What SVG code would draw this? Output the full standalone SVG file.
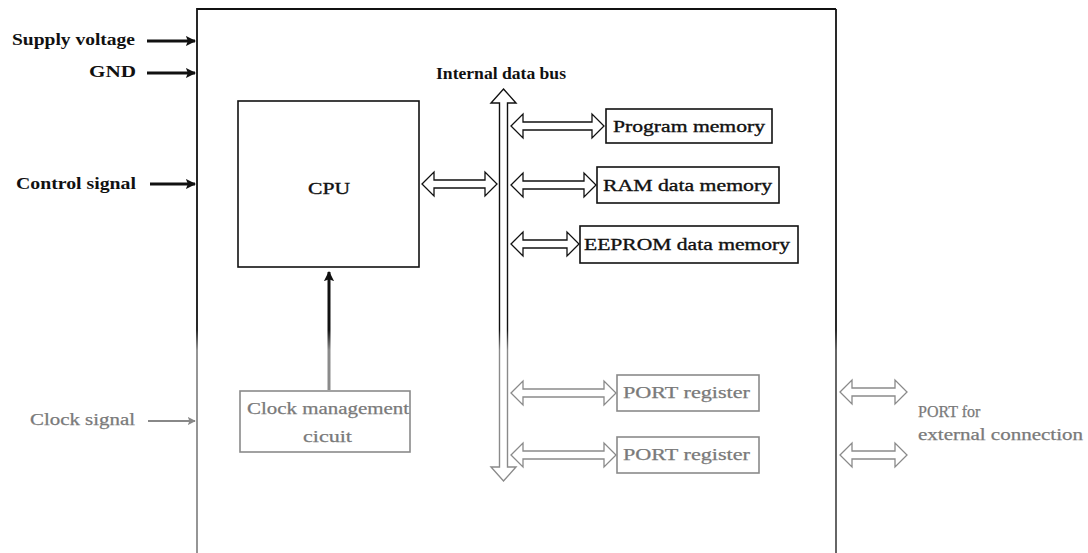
<svg xmlns="http://www.w3.org/2000/svg" width="1088" height="553" viewBox="0 0 1088 553">
<style>
text{font-family:"Liberation Serif","Times New Roman",serif;font-size:16px}
.b{font-weight:bold;fill:#111}
.k{fill:#111;stroke:#111;stroke-width:0.35}
.g{fill:#7a7a7a;stroke:#7a7a7a;stroke-width:0.25}
.box{fill:#fff;stroke:#111;stroke-width:1.6}
.gbox{fill:#fff;stroke:#8a8a8a;stroke-width:1.6}
.da{fill:#fff;stroke:#111;stroke-width:1.3;stroke-linejoin:miter}
.gda{fill:#fff;stroke:#8a8a8a;stroke-width:1.3}
.in{stroke:#111;stroke-width:3;fill:none}
.gin{stroke:#888;stroke-width:2;fill:none}
</style>
<defs>
<marker id="ah" viewBox="0 0 10 10" refX="9" refY="5" markerWidth="3.4" markerHeight="3.4" orient="auto" markerUnits="strokeWidth">
<path d="M0,0 L10,5 L0,10 L2,5 z" fill="#111"/>
</marker>
<marker id="gah" viewBox="0 0 10 10" refX="9" refY="5" markerWidth="4" markerHeight="4" orient="auto" markerUnits="strokeWidth">
<path d="M0,0 L10,5 L0,10 L2,5 z" fill="#888"/>
</marker>
<linearGradient id="fade" gradientUnits="userSpaceOnUse" x1="0" y1="330" x2="0" y2="350">
<stop offset="0" stop-color="#111"/>
<stop offset="1" stop-color="#8a8a8a"/>
</linearGradient>
<linearGradient id="fadeR" gradientUnits="userSpaceOnUse" x1="0" y1="330" x2="0" y2="350">
<stop offset="0" stop-color="#111"/>
<stop offset="1" stop-color="#555"/>
</linearGradient>
</defs>
<rect width="1088" height="553" fill="#fff"/>

<g id="chip">
<path d="M197,553 V9 H836" fill="none" stroke="url(#fade)" stroke-width="1.8"/>
<path d="M836,9 V553" fill="none" stroke="url(#fadeR)" stroke-width="1.8"/>
</g>

<g id="connectors">
<line class="in" x1="147" y1="41" x2="195" y2="41" marker-end="url(#ah)"/>
<line class="in" x1="147" y1="73" x2="195" y2="73" marker-end="url(#ah)"/>
<line class="in" x1="150" y1="184" x2="195" y2="184" marker-end="url(#ah)"/>
<line class="gin" x1="148" y1="421" x2="195" y2="421" marker-end="url(#gah)"/>
<line x1="329" y1="390" x2="329" y2="272" stroke="url(#fade)" stroke-width="3" marker-end="url(#ah)"/>
<polygon id="bus" points="503.5,89 516,103 507.5,103 507.5,467 516,467 503.5,481 491,467 499.5,467 499.5,103 491,103" fill="#fff" stroke="url(#fade)" stroke-width="1.4"/>
<polygon class="da" points="422,184 434,172 434,180 485,180 485,172 497,184 485,196 485,188 434,188 434,196"/>
<polygon class="da" points="511,126 523,114 523,122 592,122 592,114 604,126 592,138 592,130 523,130 523,138"/>
<polygon class="da" points="511,185 523,173 523,181 584,181 584,173 596,185 584,197 584,189 523,189 523,197"/>
<polygon class="da" points="511,244 523,232 523,240 567,240 567,232 579,244 567,256 567,248 523,248 523,256"/>
<polygon class="gda" points="511,393 523,381 523,389 604,389 604,381 616,393 604,405 604,397 523,397 523,405"/>
<polygon class="gda" points="511,455 523,443 523,451 604,451 604,443 616,455 604,467 604,459 523,459 523,467"/>
<polygon class="gda" points="840,392 852,380 852,388 895,388 895,380 907,392 895,404 895,396 852,396 852,404"/>
<polygon class="gda" points="840,455 852,443 852,451 895,451 895,443 907,455 895,467 895,459 852,459 852,467"/>
</g>

<g id="labels">
<text class="b" x="12" y="45" textLength="123" lengthAdjust="spacingAndGlyphs">Supply voltage</text>
<text class="b" x="89" y="77" textLength="47" lengthAdjust="spacingAndGlyphs">GND</text>
<text class="b" x="16" y="189" textLength="120" lengthAdjust="spacingAndGlyphs">Control signal</text>
<text class="g" x="30" y="425" textLength="105" lengthAdjust="spacingAndGlyphs">Clock signal</text>
<text class="b" x="436" y="79" textLength="130" lengthAdjust="spacingAndGlyphs">Internal data bus</text>
<text class="g" x="918" y="417">PORT for</text>
<text class="g" x="918" y="440" textLength="165" lengthAdjust="spacingAndGlyphs">external connection</text>
</g>

<g id="cpu">
<rect class="box" x="238" y="101" width="181" height="166"/>
<text class="k" x="308" y="194" textLength="42" lengthAdjust="spacingAndGlyphs">CPU</text>
</g>

<g id="clock">
<rect class="gbox" x="240" y="391" width="170" height="61"/>
<text class="g" x="247" y="414" textLength="162" lengthAdjust="spacingAndGlyphs">Clock management</text>
<text class="g" x="303" y="442" textLength="49" lengthAdjust="spacingAndGlyphs">cicuit</text>
</g>

<g id="program">
<rect class="box" x="606" y="109" width="166" height="34"/>
<text class="k" x="613" y="132" textLength="152" lengthAdjust="spacingAndGlyphs">Program memory</text>
</g>

<g id="ram">
<rect class="box" x="597" y="167" width="182" height="36"/>
<text class="k" x="603" y="191" textLength="169" lengthAdjust="spacingAndGlyphs">RAM data memory</text>
</g>

<g id="eeprom">
<rect class="box" x="580" y="226" width="218" height="37"/>
<text class="k" x="584" y="250" textLength="206" lengthAdjust="spacingAndGlyphs">EEPROM data memory</text>
</g>

<g id="port1">
<rect class="gbox" x="617" y="375" width="142" height="36"/>
<text class="g" x="623" y="398" textLength="127" lengthAdjust="spacingAndGlyphs">PORT register</text>
</g>

<g id="port2">
<rect class="gbox" x="617" y="437" width="142" height="36"/>
<text class="g" x="623" y="460" textLength="127" lengthAdjust="spacingAndGlyphs">PORT register</text>
</g>
</svg>
